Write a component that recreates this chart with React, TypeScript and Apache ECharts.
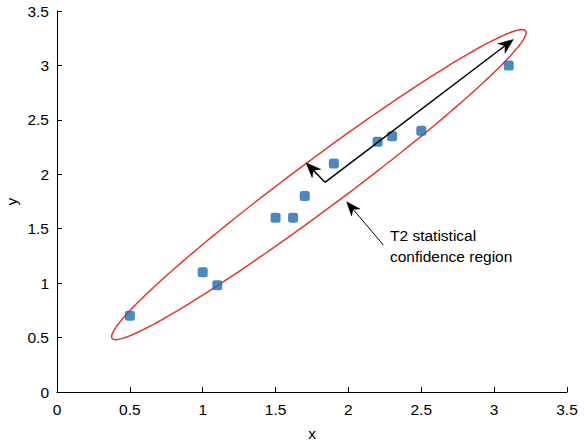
import React, { useEffect, useRef } from "react";
import * as echarts from "echarts";

// Observations
const X_VALUES = [0.5, 1.0, 1.1, 1.5, 1.62, 1.7, 1.9, 2.2, 2.3, 2.5, 3.1];
const Y_VALUES = [0.7, 1.1, 0.98, 1.6, 1.6, 1.8, 2.1, 2.3, 2.35, 2.4, 3.0];

// Axis ticks
const X_TICKS = [0, 0.5, 1, 1.5, 2, 2.5, 3, 3.5];
const Y_TICKS = [0, 0.5, 1, 1.5, 2, 2.5, 3, 3.5];

// T2 confidence ellipse: centre and two conjugate semi-diameters (data units)
const ELLIPSE_CENTER = [1.797, 1.905];
const ELLIPSE_SEMI_A = [1.422, 1.396];
const ELLIPSE_SEMI_B = [0, 0.281];

// Principal-direction vectors [x1, y1, x2, y2]
const VECTOR_ARROWS = [
  [1.839, 1.926, 3.132, 3.239],
  [1.839, 1.926, 1.709, 2.106],
];
// Annotation pointer [x1, y1, x2, y2]
const NOTE_ARROW = [[2.24, 1.35, 1.988, 1.747]];

const NOTE_LINES = ["T2 statistical", "confidence region"];

const FONT = "'Liberation Sans', Arial, Helvetica, sans-serif";

function arrowRender(lineWidth: number, headLen: number, headWidth: number) {
  return (params: any, api: any) => {
    const p1 = api.coord([api.value(0), api.value(1)]);
    const p2 = api.coord([api.value(2), api.value(3)]);
    const dx = p2[0] - p1[0];
    const dy = p2[1] - p1[1];
    const len = Math.sqrt(dx * dx + dy * dy) || 1;
    const ux = dx / len;
    const uy = dy / len;
    const nx = -uy;
    const ny = ux;
    const bx = p2[0] - headLen * ux;
    const by = p2[1] - headLen * uy;
    const notchX = p2[0] - headLen * 0.7 * ux;
    const notchY = p2[1] - headLen * 0.7 * uy;
    return {
      type: "group",
      children: [
        {
          type: "line",
          shape: { x1: p1[0], y1: p1[1], x2: notchX, y2: notchY },
          style: { stroke: "#000", lineWidth },
        },
        {
          type: "polygon",
          shape: {
            points: [
              [p2[0], p2[1]],
              [bx + (headWidth / 2) * nx, by + (headWidth / 2) * ny],
              [notchX, notchY],
              [bx - (headWidth / 2) * nx, by - (headWidth / 2) * ny],
            ],
          },
          style: { fill: "#000", stroke: "#000", lineWidth: 0.5 },
        },
      ],
    };
  };
}

export default function App() {
  const ref = useRef<HTMLDivElement>(null);

  useEffect(() => {
    if (!ref.current) return;
    const chart = echarts.init(ref.current, null, { renderer: "svg" });

    const axisCommon = {
      type: "value" as const,
      min: 0,
      max: 3.5,
      interval: 0.5,
      nameLocation: "middle" as const,
      nameMoveOverlap: false,
      nameTextStyle: { color: "#000", fontSize: 15.5, fontFamily: FONT },
      axisLine: { show: true, onZero: false, lineStyle: { color: "#000", width: 1 } },
      axisTick: { show: true, inside: true, length: 5, lineStyle: { color: "#000", width: 1 } },
      splitLine: { show: false },
    };

    chart.setOption({
      animation: false,
      backgroundColor: "#fff",
      grid: {
        left: 57,
        right: 17,
        top: 11,
        bottom: 50,
        containLabel: false,
        outerBoundsMode: "none",
      },
      xAxis: {
        ...axisCommon,
        name: "x",
        nameGap: 33,
        axisLabel: {
          color: "#000",
          fontSize: 15.5,
          fontFamily: FONT,
          margin: 9,
          formatter: (v: number) => (X_TICKS.includes(v) ? String(v) : ""),
        },
      },
      yAxis: {
        ...axisCommon,
        name: "y",
        nameGap: 38,
        axisLabel: {
          color: "#000",
          fontSize: 15.5,
          fontFamily: FONT,
          margin: 8,
          formatter: (v: number) => (Y_TICKS.includes(v) ? String(v) : ""),
        },
      },
      series: [
        {
          type: "custom",
          name: "ellipse",
          data: [ELLIPSE_CENTER],
          encode: { x: 0, y: 1 },
          silent: true,
          renderItem: (params: any, api: any) => {
            const pts: number[][] = [];
            const n = 240;
            for (let i = 0; i < n; i++) {
              const t = (2 * Math.PI * i) / n;
              const c = Math.cos(t);
              const s = Math.sin(t);
              pts.push(
                api.coord([
                  ELLIPSE_CENTER[0] + c * ELLIPSE_SEMI_A[0] + s * ELLIPSE_SEMI_B[0],
                  ELLIPSE_CENTER[1] + c * ELLIPSE_SEMI_A[1] + s * ELLIPSE_SEMI_B[1],
                ])
              );
            }
            return {
              type: "polygon",
              shape: { points: pts },
              style: { fill: "none", stroke: "#e0392b", lineWidth: 1.5 },
            };
          },
          z: 2,
        },
        {
          type: "scatter",
          name: "data",
          data: X_VALUES.map((x, i) => [x, Y_VALUES[i]]),
          symbol: "roundRect",
          symbolSize: 10,
          itemStyle: { color: "#1f6aaf" },
          z: 3,
        },
        {
          type: "custom",
          name: "vectors",
          data: VECTOR_ARROWS,
          encode: { x: [0, 2], y: [1, 3] },
          silent: true,
          renderItem: arrowRender(1.5, 15, 12),
          z: 4,
        },
        {
          type: "custom",
          name: "note",
          data: NOTE_ARROW,
          encode: { x: [0, 2], y: [1, 3] },
          silent: true,
          renderItem: arrowRender(1, 14, 11),
          z: 4,
        },
      ],
      graphic: NOTE_LINES.map((t, i) => ({
        type: "text",
        left: 390,
        top: 227 + i * 21.7,
        style: {
          text: t,
          fontSize: 15.5,
          fontFamily: FONT,
          fill: "#000",
        },
      })),
    });

    return () => chart.dispose();
  }, []);

  return (
    <div
      ref={ref}
      style={{ position: "fixed", left: 0, top: 0, width: 584, height: 442 }}
    />
  );
}
